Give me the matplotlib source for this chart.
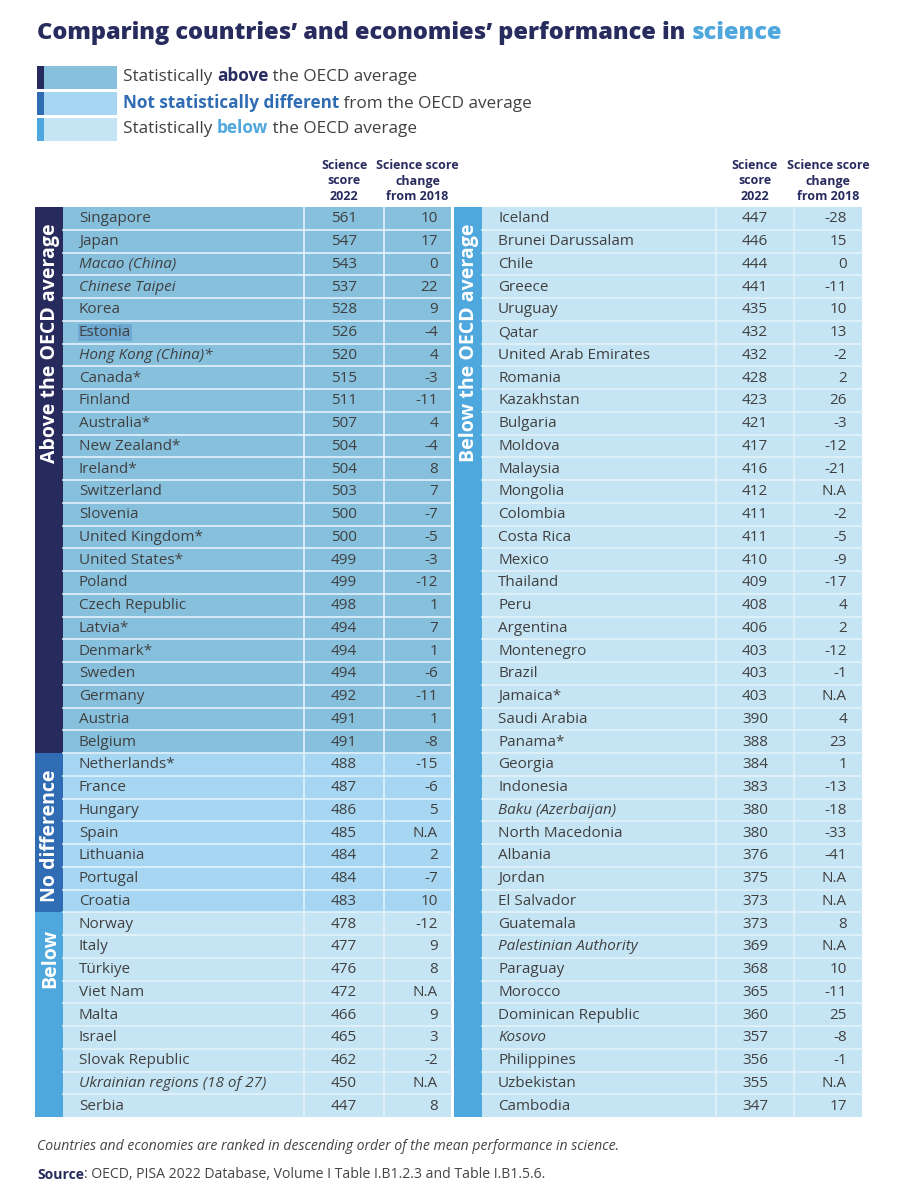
import matplotlib.pyplot as plt
from matplotlib.patches import Rectangle

plt.rcParams['font.family'] = ['Open Sans', 'DejaVu Sans']

# ---- data ----
left_names = ["Singapore", "Japan", "Macao (China)", "Chinese Taipei", "Korea", "Estonia",
              "Hong Kong (China)*", "Canada*", "Finland", "Australia*", "New Zealand*", "Ireland*",
              "Switzerland", "Slovenia", "United Kingdom*", "United States*", "Poland",
              "Czech Republic", "Latvia*", "Denmark*", "Sweden", "Germany", "Austria", "Belgium",
              "Netherlands*", "France", "Hungary", "Spain", "Lithuania", "Portugal", "Croatia",
              "Norway", "Italy", "Türkiye", "Viet Nam", "Malta", "Israel", "Slovak Republic",
              "Ukrainian regions (18 of 27)", "Serbia"]
left_scores = [561, 547, 543, 537, 528, 526, 520, 515, 511, 507, 504, 504, 503, 500, 500, 499,
               499, 498, 494, 494, 494, 492, 491, 491, 488, 487, 486, 485, 484, 484, 483,
               478, 477, 476, 472, 466, 465, 462, 450, 447]
left_change = ["10", "17", "0", "22", "9", "-4", "4", "-3", "-11", "4", "-4", "8", "7", "-7", "-5",
               "-3", "-12", "1", "7", "1", "-6", "-11", "1", "-8", "-15", "-6", "5", "N.A", "2",
               "-7", "10", "-12", "9", "8", "N.A", "9", "3", "-2", "N.A", "8"]
left_groups = ["above"] * 24 + ["same"] * 7 + ["below"] * 9

right_names = ["Iceland", "Brunei Darussalam", "Chile", "Greece", "Uruguay", "Qatar",
               "United Arab Emirates", "Romania", "Kazakhstan", "Bulgaria", "Moldova", "Malaysia",
               "Mongolia", "Colombia", "Costa Rica", "Mexico", "Thailand", "Peru", "Argentina",
               "Montenegro", "Brazil", "Jamaica*", "Saudi Arabia", "Panama*", "Georgia",
               "Indonesia", "Baku (Azerbaijan)", "North Macedonia", "Albania", "Jordan",
               "El Salvador", "Guatemala", "Palestinian Authority", "Paraguay", "Morocco",
               "Dominican Republic", "Kosovo", "Philippines", "Uzbekistan", "Cambodia"]
right_scores = [447, 446, 444, 441, 435, 432, 432, 428, 423, 421, 417, 416, 412, 411, 411, 410,
                409, 408, 406, 403, 403, 403, 390, 388, 384, 383, 380, 380, 376, 375, 373, 373,
                369, 368, 365, 360, 357, 356, 355, 347]
right_change = ["-28", "15", "0", "-11", "10", "13", "-2", "2", "26", "-3", "-12", "-21", "N.A",
                "-2", "-5", "-9", "-17", "4", "2", "-12", "-1", "N.A", "4", "23", "1", "-13",
                "-18", "-33", "-41", "N.A", "N.A", "8", "N.A", "10", "-11", "25", "-8", "-1",
                "N.A", "17"]
right_groups = ["below"] * 40

italic_names = {"Macao (China)", "Chinese Taipei", "Hong Kong (China)*",
                "Ukrainian regions (18 of 27)", "Baku (Azerbaijan)", "Palestinian Authority",
                "Kosovo"}

group_labels = {"above": "Above the OECD average", "same": "No difference", "below": "Below"}

# ---- style ----
NAVY = "#272b5e"
row_fill = {"above": "#86c0dd", "same": "#a6d6f1", "below": "#c6e5f4"}
band_fill = {"above": "#262a5c", "same": "#2f6cb3", "below": "#4ea7dd"}
TXT = "#404040"
LINE = "#e4f2fa"

fig = plt.figure(figsize=(9.09, 12), dpi=100)
ax = fig.add_axes([0, 0, 1, 1])
ax.set_xlim(0, 909)
ax.set_ylim(1200, 0)
ax.axis("off")

# title
t1 = ax.text(37, 33, "Comparing countries\u2019 and economies\u2019 performance in ",
             fontsize=16.9, fontweight=800, color=NAVY, va="center")
ax.annotate("science", xy=(1, 0), xycoords=t1, va="bottom", fontsize=16.9,
            fontweight=800, color="#4ea7dd")

# legend
legend = [("above", [("Statistically ", "normal", TXT), ("above", "bold", NAVY),
                     (" the OECD average", "normal", TXT)]),
          ("same", [("Not statistically different", "bold", "#2f6cb3"),
                    (" from the OECD average", "normal", TXT)]),
          ("below", [("Statistically ", "normal", TXT), ("below", "bold", "#4ea7dd"),
                     (" the OECD average", "normal", TXT)])]
for k, (g, parts) in enumerate(legend):
    yc = 77 + k * 26
    ax.add_patch(Rectangle((37, yc - 11.5), 80, 23, facecolor=row_fill[g], edgecolor="none"))
    ax.add_patch(Rectangle((37, yc - 11.5), 7, 23, facecolor=band_fill[g], edgecolor="none"))
    prev = None
    for s, w, c in parts:
        if prev is None:
            prev = ax.text(123, yc, s, fontsize=12.3, fontweight=w, color=c, va="center")
        else:
            prev = ax.annotate(s, xy=(1, 0), xycoords=prev, va="bottom", fontsize=12.3,
                               fontweight=w, color=c)

TOP = 207
PITCH = 22.75


def draw_table(names, scores, changes, groups, x0, xname, xsep1, xsep2, xend, xscore, xchg):
    band_w = 28
    n = len(names)
    for i in range(n):
        y = TOP + i * PITCH
        ax.add_patch(Rectangle((x0 + band_w, y), xend - x0 - band_w, PITCH,
                               facecolor=row_fill[groups[i]], edgecolor="none"))
        if i > 0:
            ax.plot([x0 + band_w, xend], [y, y], color=LINE, lw=1.2)
        style = "italic" if names[i] in italic_names else "normal"
        bb = None
        if names[i] == "Estonia":
            bb = dict(boxstyle="square,pad=0.05", facecolor="#5f9bcc", edgecolor="none", alpha=0.6)
        ax.text(xname, y + PITCH / 2 + 0.5, names[i], fontsize=11, style=style, color=TXT,
                va="center", ha="left", bbox=bb)
        ax.text(xscore, y + PITCH / 2 + 0.5, str(scores[i]), fontsize=11, color=TXT,
                va="center", ha="center")
        ax.text(xchg, y + PITCH / 2 + 0.5, changes[i], fontsize=11, color=TXT,
                va="center", ha="right")
    for xs in (xsep1, xsep2):
        ax.plot([xs, xs], [TOP, TOP + n * PITCH], color=LINE, lw=1.2)
    # group bands
    start = 0
    for i in range(1, n + 1):
        if i == n or groups[i] != groups[start]:
            g = groups[start]
            y0 = TOP + start * PITCH
            ax.add_patch(Rectangle((x0, y0), band_w, (i - start) * PITCH,
                                   facecolor=band_fill[g], edgecolor="none"))
            label = group_labels[g]
            if x0 > 400:
                label = "Below the OECD average"
            ax.text(x0 + band_w / 2 + 1, y0 + 16, label, rotation=90, fontsize=14,
                    fontweight="bold", color="white", ha="center", va="top")
            start = i
    # headers
    ax.text(xscore, 181, "Science\nscore\n2022", fontsize=9, fontweight="bold", color=NAVY,
            ha="center", va="center", linespacing=1.25)
    ax.text((xsep2 + xend) / 2, 181, "Science score\nchange\nfrom 2018", fontsize=9,
            fontweight="bold", color=NAVY, ha="center", va="center", linespacing=1.25)


draw_table(left_names, left_scores, left_change, left_groups,
           35, 79, 304, 384, 451, 344, 438)
draw_table(right_names, right_scores, right_change, right_groups,
           454, 498, 716, 794, 862, 755, 847)

# footer
ax.text(37, 1147, "Countries and economies are ranked in descending order of the mean "
        "performance in science.", fontsize=10.1, style="italic", color="#444444", va="center")
src = ax.text(37, 1175, "Source", fontsize=10.1, fontweight="bold", color=NAVY, va="center")
ax.annotate(": OECD, PISA 2022 Database, Volume I Table I.B1.2.3 and Table I.B1.5.6.",
            xy=(1, 0), xycoords=src, va="bottom", fontsize=10.1, color="#444444")

fig.savefig("out.png", dpi=100)
